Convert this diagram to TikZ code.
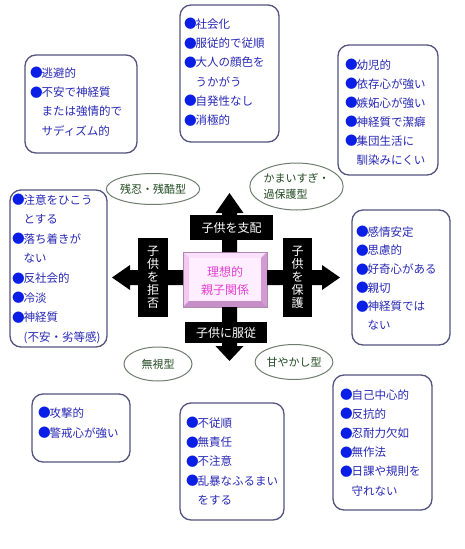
\documentclass[tikz,border=0pt]{standalone}
\usepackage{fontspec}
\setmainfont{Noto Sans CJK JP}
\usetikzlibrary{calc,shapes.geometric}
\definecolor{boxline}{HTML}{545480}
\definecolor{txtblue}{HTML}{2828B4}
\definecolor{bulblue}{HTML}{0A1EE6}
\definecolor{ellline}{HTML}{6E7E6E}
\definecolor{elltxt}{HTML}{204A20}
\definecolor{pinktxt}{HTML}{E040D0}
\definecolor{cframe}{HTML}{D9A6D9}
\definecolor{cout}{HTML}{B088B0}
\definecolor{ctop}{HTML}{FBE0FB}
\definecolor{cleft}{HTML}{F2C8F2}
\definecolor{cbot}{HTML}{C78FC7}
\definecolor{cright}{HTML}{D29CD2}
\definecolor{cface}{HTML}{FFEEFF}
\newcommand\mybul{\makebox[1em][l]{\raisebox{-0.6pt}{\scalebox{1.1}{\textcolor{bulblue}{●}}}}}
\newcommand\myind{\hspace*{1em}}
\tikzset{
  infobox/.style={draw=boxline, line width=1.3pt, rounded corners=11pt, fill=white,
    inner sep=0pt, outer sep=0pt, anchor=north west},
  ptext/.style={text=txtblue, font=\fontsize{11.5}{#1}\selectfont, align=left,
    anchor=north west, inner sep=0pt},
  ptext/.default=19.3,
  typeell/.style={ellipse, draw=ellline, line width=1pt, fill=white, inner sep=0pt,
    text=elltxt, font=\fontsize{11}{15.5}\selectfont},
  blacklabel/.style={fill=black, text=white, inner sep=0pt, outer sep=0pt,
    font=\fontsize{12}{13}\selectfont, align=center},
  fatarrow/.style={fill=black}
}
\begin{document}
\begin{tikzpicture}[x=1pt,y=-1pt]
\useasboundingbox (0,0) rectangle (465,549);
\fill[white] (0,0) rectangle (465,549);

% ---- info boxes ----
\node[infobox, minimum width=112pt, minimum height=98pt] (tlbox) at (25,55) {};
\node[ptext] (tltext) at (30,67) {\mybul 逃避的\\\mybul 不安で神経質\\\myind または強情的で\\\myind サディズム的};

\node[infobox, minimum width=99pt, minimum height=137pt] (tcbox) at (180,5) {};
\node[ptext] (tctext) at (184,18) {\mybul 社会化\\\mybul 服従的で従順\\\mybul 大人の顔色を\\\myind うかがう\\\mybul 自発性なし\\\mybul 消極的};

\node[infobox, minimum width=100pt, minimum height=130pt] (trbox) at (338,45) {};
\node[ptext=19] (trtext) at (345,59) {\mybul 幼児的\\\mybul 依存心が強い\\\mybul 嫉妬心が強い\\\mybul 神経質で潔癖\\\mybul 集団生活に\\\myind 馴染みにくい};

\node[infobox, minimum width=97pt, minimum height=157pt] (lbox) at (10,190) {};
\node[ptext=19.6] (ltext) at (12,194) {\mybul 注意をひこう\\\myind とする\\\mybul 落ち着きが\\\myind ない\\\mybul 反社会的\\\mybul 冷淡\\\mybul 神経質\\\myind (不安・劣等感)};

\node[infobox, minimum width=98pt, minimum height=135pt] (rbox) at (352,210) {};
\node[ptext=18.7] (rtext) at (356,226) {\mybul 感情安定\\\mybul 思慮的\\\mybul 好奇心がある\\\mybul 親切\\\mybul 神経質では\\\myind ない};

\node[infobox, minimum width=98pt, minimum height=68pt] (blbox) at (32,394) {};
\node[ptext=20] (bltext) at (38,407) {\mybul 攻撃的\\\mybul 警戒心が強い};

\node[infobox, minimum width=104pt, minimum height=117pt] (bcbox) at (180,403) {};
\node[ptext] (bctext) at (186,417) {\mybul 不従順\\\mybul 無責任\\\mybul 不注意\\\mybul 乱暴なふるまい\\\myind をする};

\node[infobox, minimum width=99pt, minimum height=135pt] (brbox) at (333,375) {};
\node[ptext=19.2] (brtext) at (340,389) {\mybul 自己中心的\\\mybul 反抗的\\\mybul 忍耐力欠如\\\mybul 無作法\\\mybul 日課や規則を\\\myind 守れない};

% ---- type ellipses ----
\node[typeell, minimum width=84pt, minimum height=31pt] (zanko) at (153,189) {残忍・残酷型};
\node[typeell, minimum width=87pt, minimum height=47pt, align=left] (kahogo) at (296.5,186.5) {かまいすぎ・\\過保護型};
\node[typeell, minimum width=68pt, minimum height=34pt] (mushi) at (158,364) {無視型};
\node[typeell, minimum width=76pt, minimum height=35pt] (amayakashi) at (294,362) {甘やかし型};

% ---- centre box ----
\node[draw=cout, line width=0.6pt, fill=cframe, minimum width=84pt, minimum height=55pt,
      inner sep=0pt, outer sep=0pt] (centerbox) at (225,279.5) {};
\fill[ctop] (centerbox.north west) -- (centerbox.north east) -- ++(-6,6) -- ($(centerbox.north west)+(6,6)$) -- cycle;
\fill[cleft] (centerbox.north west) -- (centerbox.south west) -- ++(6,-6) -- ($(centerbox.north west)+(6,6)$) -- cycle;
\fill[cbot] (centerbox.south west) -- (centerbox.south east) -- ++(-6,-6) -- ($(centerbox.south west)+(6,-6)$) -- cycle;
\fill[cright] (centerbox.north east) -- (centerbox.south east) -- ++(-6,-6) -- ($(centerbox.north east)+(-6,6)$) -- cycle;
\fill[cface] ($(centerbox.north west)+(6,6)$) rectangle ($(centerbox.south east)+(-6,-6)$);
\draw[cout, line width=0.6pt] (centerbox.north west) rectangle (centerbox.south east);
\node[text=pinktxt, font=\fontsize{12}{18}\selectfont, align=center, inner sep=0pt] (centertext) at (225,281) {理想的\\親子関係};

% ---- block arrows ----
\coordinate (uptip) at (229.5,193);
\coordinate (dntip) at (229.5,361);
\coordinate (lftip) at (112,277.5);
\coordinate (rttip) at (340,277.5);
\fill[fatarrow] ($(centerbox.north -| uptip)+(-7.5,0)$) -- ($(uptip)+(-7.5,20)$) -- ($(uptip)+(-14,20)$) -- (uptip)
  -- ($(uptip)+(14,20)$) -- ($(uptip)+(7.5,20)$) -- ($(centerbox.north -| uptip)+(7.5,0)$) -- cycle;
\fill[fatarrow] ($(centerbox.south -| dntip)+(-7.5,0)$) -- ($(dntip)+(-7.5,-15)$) -- ($(dntip)+(-14,-15)$) -- (dntip)
  -- ($(dntip)+(14,-15)$) -- ($(dntip)+(7.5,-15)$) -- ($(centerbox.south -| dntip)+(7.5,0)$) -- cycle;
\fill[fatarrow] ($(centerbox.west |- lftip)+(0,-7.5)$) -- ($(lftip)+(18,-7.5)$) -- ($(lftip)+(18,-12.5)$) -- (lftip)
  -- ($(lftip)+(18,12.5)$) -- ($(lftip)+(18,7.5)$) -- ($(centerbox.west |- lftip)+(0,7.5)$) -- cycle;
\fill[fatarrow] ($(centerbox.east |- rttip)+(0,-7.5)$) -- ($(rttip)+(-18,-7.5)$) -- ($(rttip)+(-18,-12.5)$) -- (rttip)
  -- ($(rttip)+(-18,12.5)$) -- ($(rttip)+(-18,7.5)$) -- ($(centerbox.east |- rttip)+(0,7.5)$) -- cycle;

% ---- arrow labels ----
\node[blacklabel, minimum width=83pt, minimum height=25pt] (shihai) at (231.5,227.5) {子供を支配};
\node[blacklabel, minimum width=82pt, minimum height=21pt] (fukuju) at (226,332.5) {子供に服従};
\node[blacklabel, minimum width=30pt, minimum height=79pt] (kyohi) at (153,277.5) {子\\供\\を\\拒\\否};
\node[blacklabel, minimum width=29pt, minimum height=79pt] (hogo) at (297.5,277.5) {子\\供\\を\\保\\護};
\end{tikzpicture}
\end{document}
